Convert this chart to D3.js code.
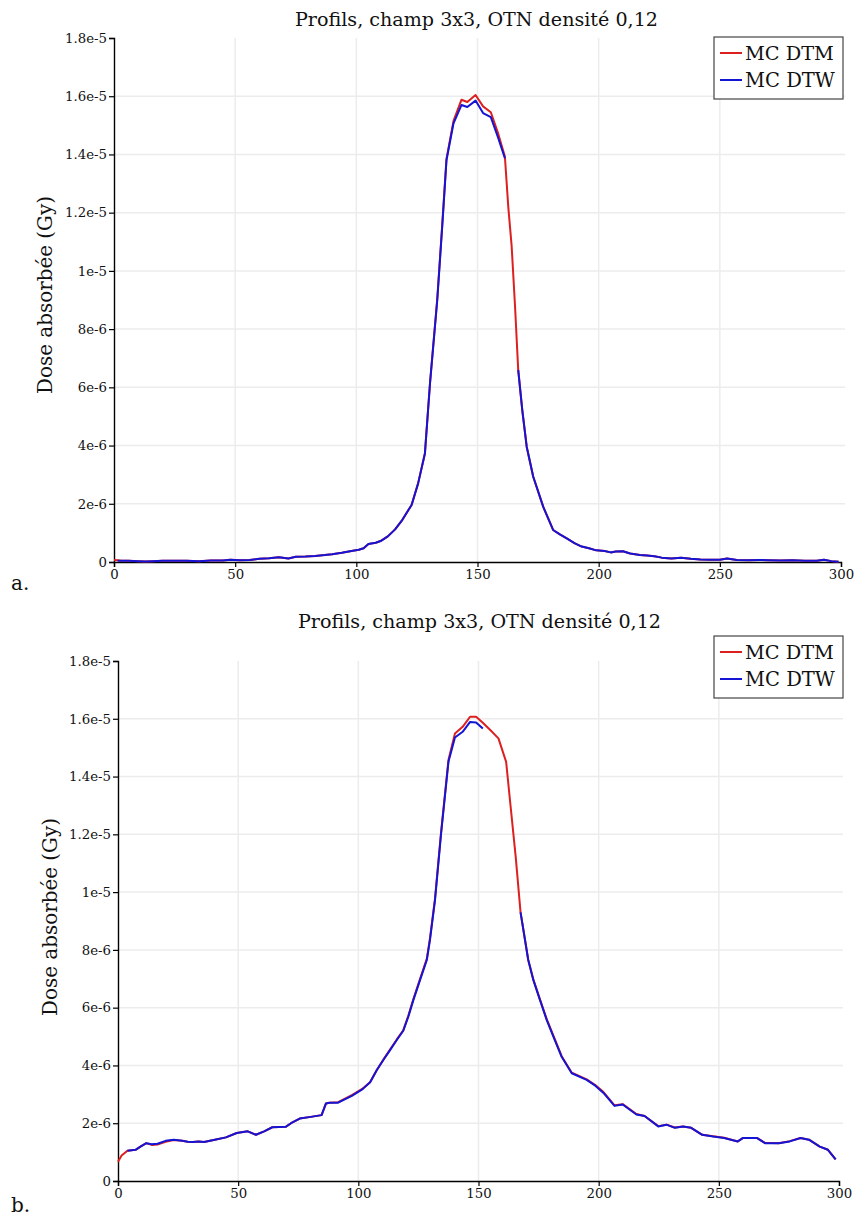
<!DOCTYPE html>
<html><head><meta charset="utf-8">
<script src="https://cdn.jsdelivr.net/npm/d3@7"></script>
<style>
html,body{margin:0;padding:0;background:#fff;}
svg{display:block;}
text{font-family:"DejaVu Serif",serif;fill:#111;}
</style></head>
<body>
<svg id="c" width="858" height="1218"></svg>
<script>
// ---- shared labels ----
const titleText = "Profils, champ 3x3, OTN densité 0,12";
const yAxisTitle = "Dose absorbée (Gy)";
const seriesNames = ["MC DTM", "MC DTW"];
const xTicks = [0, 50, 100, 150, 200, 250, 300];
const yTicks = [0, 2, 4, 6, 8, 10, 12, 14, 16, 18];           // in 1e-6 Gy
const yTickLabels = ["0","2e-6","4e-6","6e-6","8e-6","1e-5","1.2e-5","1.4e-5","1.6e-5","1.8e-5"];

// ---- chart a : dose values in 1e-6 Gy ----
const xA = [0,1.5,3,6,10,13,16,20,25,30,35,40,45,48,52,56,60,64,68,72,75,79,83,87,90,94,98,101,103,105,
  108,110,113,116,119,122.8,125.5,128.3,130.4,133.4,135.5,137.2,140.1,143.4,145.8,149.2,152.3,155.5,158.4,161.3,
  162.7,164.1,165.5,166.8,168.5,170.3,173,177.1,181.2,184,187,190,193,196,199,202.5,205,207,210,213,
  217,220,223,226,230,234,238,242,246,250,253,257,262,266,270,275,280,285,290,293,296,299];
const dtwA = [null,0.04,0.04,0.04,0.03,0.02,0.03,0.04,0.04,0.04,0.03,0.05,0.05,0.08,0.06,0.07,0.11,0.13,0.16,0.12,0.18,0.19,0.21,0.24,0.27,0.32,0.38,0.42,0.47,0.62,
  0.66,0.72,0.88,1.12,1.45,1.96,2.7,3.73,6.14,9.0,11.6,13.8,15.07,15.7,15.63,15.85,15.42,15.28,14.6,13.87,
  null,null,null,6.6,5.2,3.96,2.93,1.9,1.1,0.95,0.8,0.65,0.53,0.47,0.40,0.38,0.33,0.36,0.37,0.29,
  0.24,0.22,0.2,0.15,0.12,0.15,0.11,0.09,0.08,0.08,0.12,0.07,0.06,0.07,0.06,0.05,0.06,0.04,0.04,0.08,0.03,0.01];
const dtmA = [0.07,0.06,0.04,0.04,0.03,0.02,0.03,0.04,0.04,0.04,0.03,0.05,0.05,0.08,0.06,0.07,0.11,0.13,0.16,0.12,0.18,0.19,0.21,0.24,0.27,0.32,0.38,0.42,0.47,0.62,
  0.66,0.72,0.88,1.12,1.45,1.96,2.7,3.73,6.14,9.05,11.65,13.85,15.15,15.88,15.8,16.04,15.65,15.45,14.75,13.93,
  12.2,10.84,8.77,6.6,5.2,3.96,2.93,1.9,1.1,0.95,0.8,0.65,0.53,0.47,0.40,0.38,0.33,0.36,0.37,0.29,
  0.24,0.22,0.2,0.15,0.12,0.15,0.11,0.09,0.08,0.08,0.12,0.07,0.06,0.07,0.06,0.05,0.06,0.04,0.04,0.08,0.03,0.01];

// ---- chart b : dose values in 1e-6 Gy ----
const xB = [0,1.5,3.9,7.3,9.5,11.8,14,16.4,19.8,23.2,26.7,29,31.2,33.5,35.8,40.3,44.9,49.4,54,57.4,
  60.8,64.2,69.9,72,75.6,80.2,84.7,86.5,88,91.6,97.3,101.8,104.9,107.7,110.4,113.2,116,118.7,120.8,122.9,
  125.7,128.5,129.8,131.9,134.4,137.5,140.2,143.4,146.5,149,151.8,155,158.3,161.5,163.1,165.5,167.5,170.7,172.8,175.6,
  178.4,181.2,184.6,188.8,195,198.6,202,206.6,210,215.7,219.1,224.8,228.2,231.7,235.1,238.5,243.1,247.6,252.2,257.9,
  260.1,265.8,269.2,274.9,279.5,284,287.5,292,295.4,298.6];
const dtwB = [null,null,1.05,1.08,1.2,1.31,1.27,1.29,1.39,1.43,1.39,1.36,1.35,1.37,1.35,1.43,1.51,1.66,1.72,1.6,
  1.72,1.86,1.88,2.0,2.16,2.22,2.28,2.68,2.71,2.71,2.95,3.18,3.42,3.84,4.19,4.53,4.88,5.2,5.69,6.26,
  6.96,7.65,8.34,9.72,12.0,14.51,15.35,15.55,15.89,15.87,15.66,null,null,null,null,null,9.3,7.65,6.96,6.26,
  5.57,4.99,4.3,3.73,3.5,3.3,3.05,2.6,2.65,2.3,2.25,1.89,1.95,1.84,1.89,1.84,1.6,1.54,1.49,1.37,
  1.49,1.49,1.31,1.31,1.37,1.49,1.43,1.19,1.08,0.75];
const dtmB = [0.67,0.88,1.05,1.08,1.2,1.31,1.25,1.26,1.36,1.42,1.39,1.36,1.35,1.37,1.35,1.43,1.51,1.66,1.72,1.6,
  1.72,1.86,1.88,2.0,2.16,2.22,2.28,2.68,2.71,2.73,2.97,3.2,3.42,3.84,4.2,4.55,4.9,5.22,5.72,6.3,
  7.0,7.7,8.4,9.77,12.05,14.57,15.49,15.72,16.07,16.07,15.86,15.6,15.32,14.51,13.18,11.2,9.3,7.65,6.98,6.28,
  5.6,5.02,4.32,3.75,3.52,3.32,3.08,2.62,2.66,2.32,2.25,1.9,1.95,1.85,1.89,1.84,1.6,1.55,1.5,1.37,
  1.49,1.49,1.32,1.31,1.38,1.49,1.43,1.19,1.08,0.75];

const RED = "#dc1f1f", BLUE = "#1414d4";
const svg = d3.select("#c");
svg.append("rect").attr("width",858).attr("height",1218).attr("fill","#fff");

function fitText(sel, target, base){
  sel.attr("font-size", base);
  const w = sel.node().getComputedTextLength();
  sel.attr("font-size", base*target/w);
}

function drawChart(cfg){
  const {xs, dtm, dtw, L, R, T, B} = cfg;
  const x = d3.scaleLinear().domain([0,300]).range([L,R]);
  const y = d3.scaleLinear().domain([0,18]).range([B,T]);
  const g = svg.append("g");

  // grid
  g.selectAll("line.vg").data(xTicks.filter(d=>d>0 && d<300)).join("line")
    .attr("x1",d=>x(d)).attr("x2",d=>x(d)).attr("y1",T).attr("y2",B)
    .attr("stroke","#ececec").attr("stroke-width",1.5);
  g.selectAll("line.hg").data(yTicks.filter(d=>d>0 && d<18)).join("line")
    .attr("x1",L).attr("x2",R+4).attr("y1",d=>y(d)).attr("y2",d=>y(d))
    .attr("stroke","#ececec").attr("stroke-width",1.5);

  // axes
  const yAx = d3.axisLeft(y).tickValues(yTicks).tickSize(5).tickSizeOuter(5)
     .tickFormat((d,i)=>yTickLabels[i]);
  const ya = g.append("g").attr("transform",`translate(${L},0)`).call(yAx);
  const xAx = d3.axisBottom(x).tickValues(xTicks).tickSize(5).tickSizeOuter(5);
  const xa = g.append("g").attr("transform",`translate(0,${B})`).call(xAx);
  [ya,xa].forEach(a=>{
    a.select(".domain").attr("stroke","#000").attr("stroke-width",1.4);
    a.selectAll(".tick line").attr("stroke","#000").attr("stroke-width",1.2);
    a.selectAll(".tick text").attr("font-family","DejaVu Serif").attr("font-size",13.3).attr("fill","#222");
  });
  ya.selectAll(".tick text").attr("x",-7);
  xa.selectAll(".tick text").attr("y",8);

  // lines
  const pts = (arr)=> xs.map((xv,i)=>({x:xv, v:arr[i]}));
  const line = d3.line().defined(d=>d.v!=null).x(d=>x(d.x)).y(d=>y(d.v));
  g.append("path").datum(pts(dtm)).attr("d",line).attr("fill","none")
    .attr("stroke",RED).attr("stroke-width",2).attr("stroke-linejoin","round");
  g.append("path").datum(pts(dtw)).attr("d",line).attr("fill","none")
    .attr("stroke",BLUE).attr("stroke-width",2).attr("stroke-linejoin","round");

  // title
  const t = g.append("text").attr("x",cfg.titleX).attr("y",cfg.titleY)
    .attr("text-anchor","middle").text(titleText);
  fitText(t, 363, 18);

  // y axis title
  const yl = g.append("text").attr("transform",`translate(${cfg.ylX},${cfg.ylY}) rotate(-90)`)
    .attr("text-anchor","middle").attr("dy","0.35em").text(yAxisTitle);
  fitText(yl, 198, 18);

  // legend
  const lg = g.append("g").attr("transform",`translate(${cfg.legX},${cfg.legY})`);
  lg.append("rect").attr("width",129).attr("height",62).attr("fill","#fff")
    .attr("stroke","#444").attr("stroke-width",1.2);
  [RED,BLUE].forEach((c,i)=>{
    const yy = 16 + i*27;
    lg.append("line").attr("x1",6).attr("x2",28).attr("y1",yy).attr("y2",yy)
      .attr("stroke",c).attr("stroke-width",2);
    const tt = lg.append("text").attr("x",31).attr("y",yy).attr("dy","0.36em").text(seriesNames[i]);
    fitText(tt, i===0?89:90, 18);
  });

  // panel label
  g.append("text").attr("x",cfg.panelX).attr("y",cfg.panelY).attr("font-size",20).text(cfg.panel);
}

drawChart({xs:xA, dtm:dtmA, dtw:dtwA, L:114, R:841, T:38, B:562,
  titleX:476.5, titleY:26, ylX:45, ylY:295, legX:714, legY:37, panel:"a.", panelX:11, panelY:590});
drawChart({xs:xB, dtm:dtmB, dtw:dtwB, L:118, R:839, T:661, B:1181,
  titleX:479.5, titleY:628, ylX:50, ylY:917, legX:714, legY:636, panel:"b.", panelX:11, panelY:1212});
</script>
</body></html>
